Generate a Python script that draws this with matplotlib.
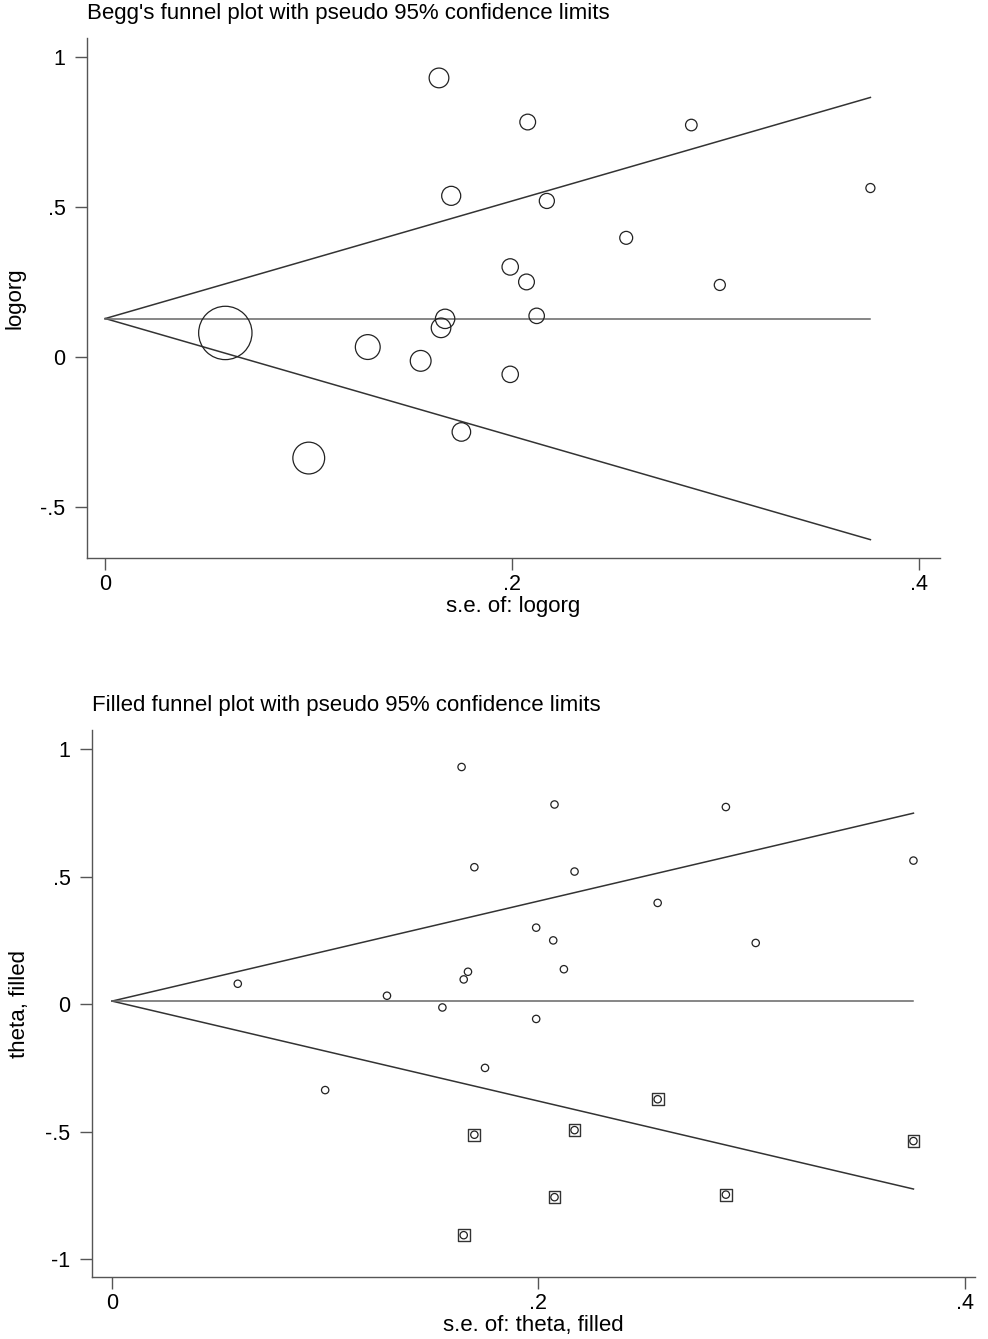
import numpy as np
import matplotlib
matplotlib.use("Agg")
import matplotlib.pyplot as plt

plt.rcParams['font.family'] = ['Liberation Sans', 'DejaVu Sans']

# estudios observados (se, logorg)
se_obs = [0.059, 0.100, 0.129, 0.155, 0.164, 0.165, 0.167, 0.170, 0.175,
          0.199, 0.199, 0.207, 0.2076, 0.212, 0.217, 0.256, 0.288, 0.302, 0.376]
theta_obs = [0.080, -0.337, 0.033, -0.013, 0.930, 0.097, 0.127, 0.537, -0.250,
             0.300, -0.058, 0.250, 0.783, 0.137, 0.520, 0.397, 0.773, 0.240, 0.563]

# estudios imputados (trim and fill)
se_fill = [0.165, 0.170, 0.2076, 0.217, 0.256, 0.288, 0.376]
theta_fill = [-0.906, -0.512, -0.757, -0.494, -0.373, -0.747, -0.537]

# estimaciones combinadas
pooled_begg = 0.128
pooled_filled = 0.012

LINE = '#333333'
SPINE = '#555555'


def style_axes(ax, yticks, yticklabels):
    ax.spines['top'].set_visible(False)
    ax.spines['right'].set_visible(False)
    for s in ('left', 'bottom'):
        ax.spines[s].set_color(SPINE)
        ax.spines[s].set_linewidth(1.0)
    ax.set_xticks([0, 0.2, 0.4])
    ax.set_xticklabels(['0', '.2', '.4'])
    ax.set_yticks(yticks)
    ax.set_yticklabels(yticklabels)
    ax.tick_params(direction='out', length=8.5, width=1.0, color=SPINE,
                   labelsize=15.5)
    ax.tick_params(axis='y', pad=7)
    ax.tick_params(axis='x', pad=3)


def draw_funnel(ax, pooled, se_max):
    se_line = np.array([0.0, se_max])
    ax.plot(se_line, pooled + 1.96 * se_line, color=LINE, lw=1.1, zorder=2)
    ax.plot(se_line, pooled - 1.96 * se_line, color=LINE, lw=1.1, zorder=2)
    ax.plot(se_line, [pooled, pooled], color='#666666', lw=1.1, zorder=2)


fig = plt.figure(figsize=(9.88, 13.39), dpi=100)

# ---- panel superior: Begg ----
ax1 = fig.add_axes([0.088, 0.5833, 0.863, 0.3883])
se = np.array(se_obs)
draw_funnel(ax1, pooled_begg, se.max())
diam_pt = 2 * 0.72 * (1.55 / se + 0.4)
ax1.scatter(se, theta_obs, s=diam_pt ** 2, facecolors='none',
            edgecolors='#222222', linewidths=0.9, zorder=3)
ax1.set_xlim(-0.009, 0.41)
ax1.set_ylim(-0.67, 1.063)
style_axes(ax1, [-0.5, 0, 0.5, 1], ['-.5', '0', '.5', '1'])
ax1.set_ylabel('logorg', fontsize=16, labelpad=11)
ax1.set_xlabel('s.e. of: logorg', fontsize=16, labelpad=1)
ax1.set_title("Begg's funnel plot with pseudo 95% confidence limits",
              fontsize=16, loc='left', pad=14)

# ---- panel inferior: filled ----
ax2 = fig.add_axes([0.0931, 0.0463, 0.894, 0.4085])
se_all = np.concatenate([se_obs, se_fill])
draw_funnel(ax2, pooled_filled, se_all.max())
ax2.scatter(se_obs + se_fill, theta_obs + theta_fill, s=28, marker='o',
            facecolors='none', edgecolors='#222222', linewidths=0.9, zorder=3)
ax2.scatter(se_fill, theta_fill, s=72, marker='s', facecolors='none',
            edgecolors='#333333', linewidths=1.0, zorder=3)
ax2.set_xlim(-0.0094, 0.405)
ax2.set_ylim(-1.07, 1.075)
style_axes(ax2, [-1, -0.5, 0, 0.5, 1], ['-1', '-.5', '0', '.5', '1'])
ax2.set_ylabel('theta, filled', fontsize=16, labelpad=11)
ax2.set_xlabel('s.e. of: theta, filled', fontsize=16, labelpad=1)
ax2.set_title('Filled funnel plot with pseudo 95% confidence limits',
              fontsize=16, loc='left', pad=14)

fig.savefig('out.png', dpi=100)
